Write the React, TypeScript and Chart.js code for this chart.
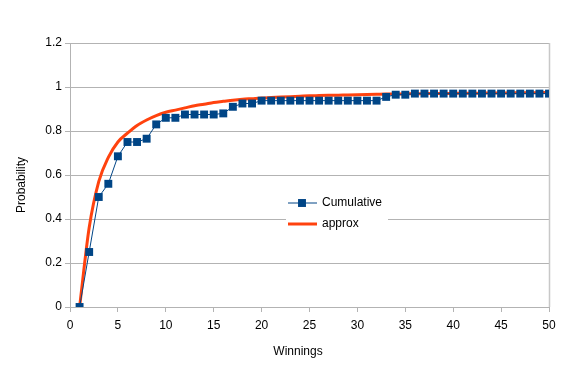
import React, { useEffect, useRef } from "react";
import { Chart, registerables } from "chart.js";

Chart.register(...registerables);

const winnings = [
  1, 2, 3, 4, 5, 6, 7, 8, 9, 10,
  11, 12, 13, 14, 15, 16, 17, 18, 19, 20,
  21, 22, 23, 24, 25, 26, 27, 28, 29, 30,
  31, 32, 33, 34, 35, 36, 37, 38, 39, 40,
  41, 42, 43, 44, 45, 46, 47, 48, 49, 50,
];

const cumulative = [
  0, 0.25, 0.5, 0.56, 0.685, 0.75, 0.75, 0.765, 0.83, 0.86,
  0.86, 0.875, 0.875, 0.875, 0.875, 0.88, 0.91, 0.925, 0.925, 0.938,
  0.938, 0.938, 0.938, 0.938, 0.938, 0.938, 0.938, 0.938, 0.938, 0.938,
  0.938, 0.938, 0.955, 0.965, 0.965, 0.97, 0.97, 0.97, 0.97, 0.97,
  0.97, 0.97, 0.97, 0.97, 0.97, 0.97, 0.97, 0.97, 0.97, 0.97,
];

const approx = [
  0, 0.36, 0.57, 0.68, 0.75, 0.79, 0.825, 0.85, 0.87, 0.885,
  0.895, 0.905, 0.915, 0.922, 0.93, 0.935, 0.94, 0.944, 0.947, 0.95,
  0.952, 0.954, 0.956, 0.958, 0.96, 0.961, 0.962, 0.963, 0.964, 0.965,
  0.966, 0.967, 0.968, 0.968, 0.969, 0.969, 0.97, 0.97, 0.971, 0.971,
  0.972, 0.972, 0.972, 0.973, 0.973, 0.973, 0.974, 0.974, 0.974, 0.975,
];

const xTicks = [0, 5, 10, 15, 20, 25, 30, 35, 40, 45, 50];
const yTicks = [0, 0.2, 0.4, 0.6, 0.8, 1, 1.2];
const yTickLabels = ["0", "0.2", "0.4", "0.6", "0.8", "1", "1.2"];
const xTitle = "Winnings";
const yTitle = "Probability";

const FONT = "'Liberation Sans', Arial, sans-serif";
const GRID = "#b3b3b3";
const BLUE = "#004586";
const ORANGE = "#ff420e";

const frameAndLegend = {
  id: "frameAndLegend",
  beforeDatasetsDraw(chart: any) {
    const { ctx, chartArea } = chart;
    ctx.save();
    ctx.strokeStyle = "#c8c8c8";
    ctx.lineWidth = 1.5;
    ctx.beginPath();
    ctx.moveTo(chartArea.right + 0.5, chartArea.top);
    ctx.lineTo(chartArea.right + 0.5, chartArea.bottom);
    ctx.stroke();
    ctx.restore();
  },
  afterDraw(chart: any) {
    const { ctx } = chart;
    ctx.save();
    // axis titles
    ctx.fillStyle = "#000000";
    ctx.font = `12px ${FONT}`;
    ctx.textAlign = "center";
    ctx.textBaseline = "middle";
    ctx.fillText(xTitle, 298, 352);
    ctx.save();
    ctx.translate(22, 185);
    ctx.rotate(-Math.PI / 2);
    ctx.fillText(yTitle, 0, 0);
    ctx.restore();

    // legend
    const bx = 286;
    const by = 192;
    ctx.fillStyle = "#ffffff";
    ctx.fillRect(bx, by, 102, 44);
    chart.data.datasets.forEach((ds: any, i: number) => {
      const y = 203 + i * 21;
      ctx.strokeStyle = ds.borderColor;
      ctx.lineWidth = ds.borderWidth;
      ctx.beginPath();
      ctx.moveTo(288, y);
      ctx.lineTo(317, y);
      ctx.stroke();
      if (ds.pointRadius > 0) {
        const s = Math.SQRT1_2 * ds.pointRadius;
        ctx.fillStyle = ds.pointBackgroundColor;
        ctx.fillRect(302 - s, y - s, 2 * s, 2 * s);
      }
      ctx.fillStyle = "#000000";
      ctx.font = `12px ${FONT}`;
      ctx.textBaseline = "middle";
      ctx.textAlign = "left";
      ctx.fillText(ds.label, 322, y);
    });
    ctx.restore();
  },
};

export default function App() {
  const canvasRef = useRef<HTMLCanvasElement | null>(null);

  useEffect(() => {
    document.body.style.margin = "0";
    const canvas = canvasRef.current;
    if (!canvas) return;
    const chart = new Chart(canvas, {
      type: "line",
      data: {
        datasets: [
          {
            label: "Cumulative",
            data: winnings.map((x, i) => ({ x, y: cumulative[i] })),
            borderColor: BLUE,
            backgroundColor: BLUE,
            borderWidth: 1,
            pointStyle: "rect",
            pointRadius: 5.6,
            pointBorderWidth: 0,
            pointBackgroundColor: BLUE,
            pointBorderColor: BLUE,
            tension: 0,
            order: 1,
          },
          {
            label: "approx",
            data: winnings.map((x, i) => ({ x, y: approx[i] })),
            borderColor: ORANGE,
            backgroundColor: ORANGE,
            borderWidth: 3,
            pointRadius: 0,
            cubicInterpolationMode: "monotone",
            order: 2,
          },
        ],
      },
      options: {
        responsive: false,
        animation: false,
        events: [],
        layout: { padding: { top: 43, right: 18, left: 0, bottom: 0 } },
        plugins: {
          legend: { display: false },
          tooltip: { enabled: false },
        },
        scales: {
          x: {
            type: "linear",
            min: 0,
            max: 50,
            afterBuildTicks: (s: any) => {
              s.ticks = xTicks.map((v) => ({ value: v }));
            },
            afterFit: (s: any) => {
              s.height = 70;
            },
            ticks: {
              font: { family: FONT, size: 12 },
              color: "#000000",
              padding: 6,
              maxRotation: 0,
            },
            grid: {
              drawOnChartArea: false,
              drawTicks: true,
              tickLength: 5,
              color: GRID,
            },
            border: { color: GRID, width: 1 },
            title: { display: false },
          },
          y: {
            type: "linear",
            min: 0,
            max: 1.2,
            afterBuildTicks: (s: any) => {
              s.ticks = yTicks.map((v) => ({ value: v }));
            },
            afterFit: (s: any) => {
              s.width = 70;
            },
            ticks: {
              font: { family: FONT, size: 12 },
              color: "#000000",
              padding: 3,
              callback: (v: any) => {
                const idx = yTicks.findIndex((t) => Math.abs(t - Number(v)) < 1e-9);
                return idx >= 0 ? yTickLabels[idx] : "";
              },
            },
            grid: {
              drawOnChartArea: true,
              drawTicks: true,
              tickLength: 5,
              color: GRID,
            },
            border: { color: GRID, width: 1 },
            title: { display: false },
          },
        },
      },
      plugins: [frameAndLegend],
    });
    return () => chart.destroy();
  }, []);

  return (
    <div style={{ width: 567, height: 377, background: "#ffffff" }}>
      <canvas ref={canvasRef} width={567} height={377} />
    </div>
  );
}
